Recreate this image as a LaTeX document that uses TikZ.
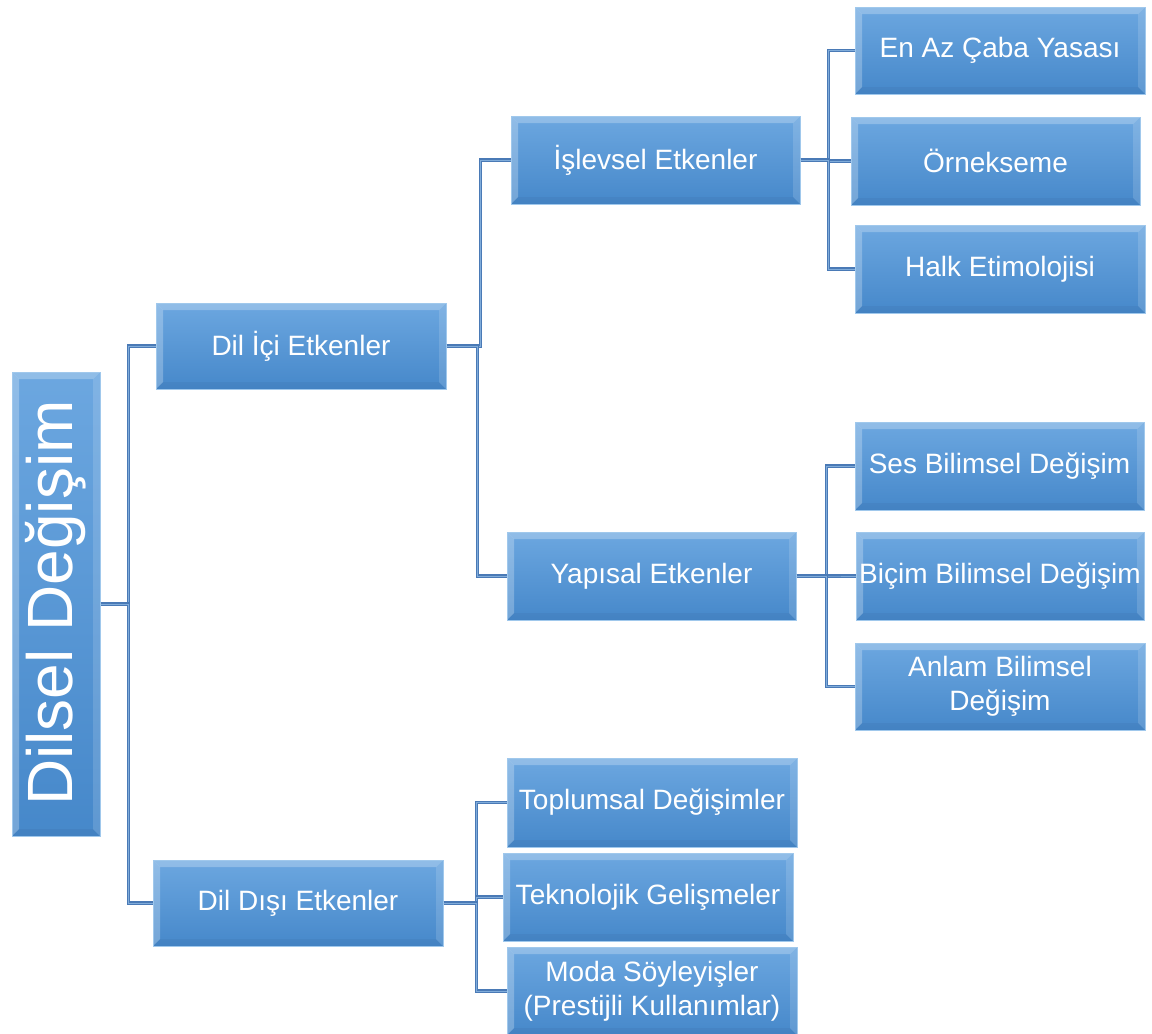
\documentclass[tikz,border=0pt]{standalone}
\usepackage{fontspec}
\setmainfont{Liberation Sans}
\definecolor{boxtop}{RGB}{108,167,224}
\definecolor{boxbot}{RGB}{70,136,202}
\definecolor{boxedge}{RGB}{160,200,236}
\definecolor{connedge}{RGB}{74,122,182}
\definecolor{connmid}{RGB}{128,172,218}
\tikzset{
  bevel/.style={path picture={
    \fill[white,opacity=0.25] (path picture bounding box.north west) -- (path picture bounding box.north east)
      -- ([shift={(-7pt,-7pt)}]path picture bounding box.north east) -- ([shift={(7pt,-7pt)}]path picture bounding box.north west) -- cycle;
    \fill[white,opacity=0.25] (path picture bounding box.north west) -- ([shift={(7pt,-7pt)}]path picture bounding box.north west)
      -- ([shift={(7pt,7pt)}]path picture bounding box.south west) -- (path picture bounding box.south west) -- cycle;
    \fill[white,opacity=0.14] (path picture bounding box.north east) -- ([shift={(-7pt,-7pt)}]path picture bounding box.north east)
      -- ([shift={(-7pt,7pt)}]path picture bounding box.south east) -- (path picture bounding box.south east) -- cycle;
    \fill[black,opacity=0.04] (path picture bounding box.south west) -- ([shift={(7pt,7pt)}]path picture bounding box.south west)
      -- ([shift={(-7pt,7pt)}]path picture bounding box.south east) -- (path picture bounding box.south east) -- cycle;
  }},
  box/.style={rectangle, top color=boxtop, bottom color=boxbot, draw=boxedge, line width=1pt,
    text=white, font=\fontsize{28}{34}\selectfont, align=center, inner sep=0pt,
    minimum width=290pt, minimum height=88pt, bevel},
  conn/.style={draw=connedge, double=connmid, double distance=0.9pt, line width=1.3pt}
}
\begin{document}
\begin{tikzpicture}[x=1pt,y=-1pt]
\useasboundingbox (0,0) rectangle (1152,1034);
% root
\node[box, minimum width=88pt, minimum height=464pt] (root) at (56,604) {};
\node[rotate=90, text=white, font=\fontsize{64}{70}\selectfont, inner sep=0pt] (roottext) at (56,603) {Dilsel Değişim};
% level 1
\node[box, minimum height=86pt] (ici) at (301,346) {Dil İçi Etkenler};
\node[box, minimum height=86pt] (disi) at (298,903) {Dil Dışı Etkenler};
% level 2
\node[box, minimum width=289pt] (isl) at (655.5,160) {İşlevsel Etkenler};
\node[box, minimum width=289pt] (yap) at (651.5,576) {Yapısal Etkenler};
% level 3
\node[box, minimum height=87pt] (cab) at (1000,50.5) {En Az Çaba Yasası};
\node[box, minimum width=289pt] (orn) at (995.5,161) {Örnekseme};
\node[box] (halk) at (1000,269) {Halk Etimolojisi};
\node[box, minimum width=289pt] (ses) at (999.5,466) {Ses Bilimsel Değişim};
\node[box, minimum width=288pt] (bic) at (1000,576) {Biçim Bilimsel Değişim};
\node[box, minimum height=87pt] (anl) at (1000,686.5) {Anlam Bilimsel\\Değişim};
\node[box, minimum height=89pt] (top) at (652,802.5) {Toplumsal Değişimler};
\node[box] (tek) at (648,897) {Teknolojik Gelişmeler};
\node[box] (moda) at (652,991) {Moda Söyleyişler\\(Prestijli Kullanımlar)};
% connectors
\draw[conn] (root.east) -- ++(28,0) |- (ici.west);
\draw[conn] (root.east) -- ++(28,0) |- (disi.west);
\draw[conn] (ici.east) -- ++(34,0) |- (isl.west);
\draw[conn] (ici.east) -- ++(31,0) |- (yap.west);
\draw[conn] (isl.east) -- ++(28,0) |- (cab.west);
\draw[conn] (isl.east) -- ++(28,0) |- (orn.west);
\draw[conn] (isl.east) -- ++(28,0) |- (halk.west);
\draw[conn] (yap.east) -- ++(30,0) |- (ses.west);
\draw[conn] (yap.east) -- ++(30,0) |- (bic.west);
\draw[conn] (yap.east) -- ++(30,0) |- (anl.west);
\draw[conn] (disi.east) -- ++(33,0) |- (top.west);
\draw[conn] (disi.east) -- ++(33,0) |- (tek.west);
\draw[conn] (disi.east) -- ++(33,0) |- (moda.west);
\end{tikzpicture}
\end{document}
